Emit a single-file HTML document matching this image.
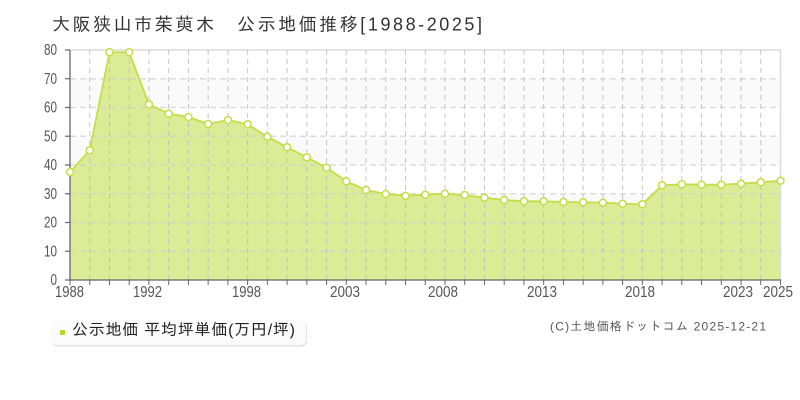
<!DOCTYPE html>
<html><head><meta charset="utf-8"><style>
html,body{margin:0;padding:0;background:#fff;}
svg{display:block;}
text{font-family:"Liberation Sans","IPAGothic","Noto Sans CJK JP",sans-serif;}
</style></head><body>
<svg width="800" height="400" viewBox="0 0 800 400" xmlns="http://www.w3.org/2000/svg">
<rect width="800" height="400" fill="#fff"/>
<text x="52" y="30.5" font-size="18" fill="#333" textLength="430">大阪狭山市茱萸木　公示地価推移[1988-2025]</text>
<!-- bands -->
<rect x="70" y="78.75" width="710.5" height="28.75" fill="#fafafa"/>
<rect x="70" y="136.25" width="710.5" height="28.75" fill="#fafafa"/>
<rect x="70" y="193.75" width="710.5" height="28.75" fill="#fafafa"/>
<rect x="70" y="251.25" width="710.5" height="28.75" fill="#fafafa"/>
<!-- fill -->
<polygon fill="#dbec96" points="70,280 70,172 89.74,150.3 109.47,52.3 129.21,52.3 148.94,104.3 168.68,113.7 188.42,117 208.15,124 227.89,120 247.62,124.3 267.36,136.7 287.10,147.3 306.83,157.3 326.57,167.7 346.30,181.3 366.04,190 385.78,194 405.51,195.7 425.25,194.7 444.98,193.7 464.72,195 484.46,197.7 504.19,200 523.93,201.3 543.66,201.3 563.40,202 583.14,202.3 602.87,202.7 622.61,203.7 642.34,204.3 662.08,185.3 681.82,184.3 701.55,184.7 721.29,184.7 741.02,183.7 760.76,182.3 780.5,180.7 780.5,280"/>
<!-- horizontal grid -->
<g stroke="#cfcfcf" stroke-opacity="0.7" stroke-width="1.6" stroke-dasharray="6,4" fill="none">
<line x1="70" y1="251.25" x2="780.5" y2="251.25"/>
<line x1="70" y1="222.5" x2="780.5" y2="222.5"/>
<line x1="70" y1="193.75" x2="780.5" y2="193.75"/>
<line x1="70" y1="165" x2="780.5" y2="165"/>
<line x1="70" y1="136.25" x2="780.5" y2="136.25"/>
<line x1="70" y1="107.5" x2="780.5" y2="107.5"/>
<line x1="70" y1="78.75" x2="780.5" y2="78.75"/>
</g>
<line x1="70" y1="50" x2="781" y2="50" stroke="#dcdcdc" stroke-width="1.5"/>
<line x1="780.5" y1="50" x2="780.5" y2="280" stroke="#dcdcdc" stroke-width="1.5"/>
<!-- vertical grid -->
<g stroke="#bdbdbd" stroke-opacity="0.85" stroke-width="1" stroke-dasharray="5,4" fill="none">
<line x1="89.74" y1="50" x2="89.74" y2="280"/>
<line x1="109.47" y1="50" x2="109.47" y2="280"/>
<line x1="129.21" y1="50" x2="129.21" y2="280"/>
<line x1="148.94" y1="50" x2="148.94" y2="280"/>
<line x1="168.68" y1="50" x2="168.68" y2="280"/>
<line x1="188.42" y1="50" x2="188.42" y2="280"/>
<line x1="208.15" y1="50" x2="208.15" y2="280"/>
<line x1="227.89" y1="50" x2="227.89" y2="280"/>
<line x1="247.62" y1="50" x2="247.62" y2="280"/>
<line x1="267.36" y1="50" x2="267.36" y2="280"/>
<line x1="287.10" y1="50" x2="287.10" y2="280"/>
<line x1="306.83" y1="50" x2="306.83" y2="280"/>
<line x1="326.57" y1="50" x2="326.57" y2="280"/>
<line x1="346.30" y1="50" x2="346.30" y2="280"/>
<line x1="366.04" y1="50" x2="366.04" y2="280"/>
<line x1="385.78" y1="50" x2="385.78" y2="280"/>
<line x1="405.51" y1="50" x2="405.51" y2="280"/>
<line x1="425.25" y1="50" x2="425.25" y2="280"/>
<line x1="444.98" y1="50" x2="444.98" y2="280"/>
<line x1="464.72" y1="50" x2="464.72" y2="280"/>
<line x1="484.46" y1="50" x2="484.46" y2="280"/>
<line x1="504.19" y1="50" x2="504.19" y2="280"/>
<line x1="523.93" y1="50" x2="523.93" y2="280"/>
<line x1="543.66" y1="50" x2="543.66" y2="280"/>
<line x1="563.40" y1="50" x2="563.40" y2="280"/>
<line x1="583.14" y1="50" x2="583.14" y2="280"/>
<line x1="602.87" y1="50" x2="602.87" y2="280"/>
<line x1="622.61" y1="50" x2="622.61" y2="280"/>
<line x1="642.34" y1="50" x2="642.34" y2="280"/>
<line x1="662.08" y1="50" x2="662.08" y2="280"/>
<line x1="681.82" y1="50" x2="681.82" y2="280"/>
<line x1="701.55" y1="50" x2="701.55" y2="280"/>
<line x1="721.29" y1="50" x2="721.29" y2="280"/>
<line x1="741.02" y1="50" x2="741.02" y2="280"/>
<line x1="760.76" y1="50" x2="760.76" y2="280"/>
</g>
<!-- series line -->
<polyline fill="none" stroke="#c4de48" stroke-width="1.8" stroke-linejoin="round" points="70,172 89.74,150.3 109.47,52.3 129.21,52.3 148.94,104.3 168.68,113.7 188.42,117 208.15,124 227.89,120 247.62,124.3 267.36,136.7 287.10,147.3 306.83,157.3 326.57,167.7 346.30,181.3 366.04,190 385.78,194 405.51,195.7 425.25,194.7 444.98,193.7 464.72,195 484.46,197.7 504.19,200 523.93,201.3 543.66,201.3 563.40,202 583.14,202.3 602.87,202.7 622.61,203.7 642.34,204.3 662.08,185.3 681.82,184.3 701.55,184.7 721.29,184.7 741.02,183.7 760.76,182.3 780.5,180.7"/>
<!-- axes -->
<line x1="70" y1="50" x2="70" y2="280.5" stroke="#666" stroke-width="1.3"/>
<line x1="69.5" y1="280" x2="781" y2="280" stroke="#666" stroke-width="1.3"/>
<g stroke="#666" stroke-width="1.2">
<line x1="65" y1="50" x2="70" y2="50"/>
<line x1="65" y1="78.75" x2="70" y2="78.75"/>
<line x1="65" y1="107.5" x2="70" y2="107.5"/>
<line x1="65" y1="136.25" x2="70" y2="136.25"/>
<line x1="65" y1="165" x2="70" y2="165"/>
<line x1="65" y1="193.75" x2="70" y2="193.75"/>
<line x1="65" y1="222.5" x2="70" y2="222.5"/>
<line x1="65" y1="251.25" x2="70" y2="251.25"/>
<line x1="65" y1="280" x2="70" y2="280"/>
</g>
<g stroke="#666" stroke-width="1">
<line x1="70" y1="280" x2="70" y2="285"/>
<line x1="89.74" y1="280" x2="89.74" y2="285"/>
<line x1="109.47" y1="280" x2="109.47" y2="285"/>
<line x1="129.21" y1="280" x2="129.21" y2="285"/>
<line x1="148.94" y1="280" x2="148.94" y2="285"/>
<line x1="168.68" y1="280" x2="168.68" y2="285"/>
<line x1="188.42" y1="280" x2="188.42" y2="285"/>
<line x1="208.15" y1="280" x2="208.15" y2="285"/>
<line x1="227.89" y1="280" x2="227.89" y2="285"/>
<line x1="247.62" y1="280" x2="247.62" y2="285"/>
<line x1="267.36" y1="280" x2="267.36" y2="285"/>
<line x1="287.10" y1="280" x2="287.10" y2="285"/>
<line x1="306.83" y1="280" x2="306.83" y2="285"/>
<line x1="326.57" y1="280" x2="326.57" y2="285"/>
<line x1="346.30" y1="280" x2="346.30" y2="285"/>
<line x1="366.04" y1="280" x2="366.04" y2="285"/>
<line x1="385.78" y1="280" x2="385.78" y2="285"/>
<line x1="405.51" y1="280" x2="405.51" y2="285"/>
<line x1="425.25" y1="280" x2="425.25" y2="285"/>
<line x1="444.98" y1="280" x2="444.98" y2="285"/>
<line x1="464.72" y1="280" x2="464.72" y2="285"/>
<line x1="484.46" y1="280" x2="484.46" y2="285"/>
<line x1="504.19" y1="280" x2="504.19" y2="285"/>
<line x1="523.93" y1="280" x2="523.93" y2="285"/>
<line x1="543.66" y1="280" x2="543.66" y2="285"/>
<line x1="563.40" y1="280" x2="563.40" y2="285"/>
<line x1="583.14" y1="280" x2="583.14" y2="285"/>
<line x1="602.87" y1="280" x2="602.87" y2="285"/>
<line x1="622.61" y1="280" x2="622.61" y2="285"/>
<line x1="642.34" y1="280" x2="642.34" y2="285"/>
<line x1="662.08" y1="280" x2="662.08" y2="285"/>
<line x1="681.82" y1="280" x2="681.82" y2="285"/>
<line x1="701.55" y1="280" x2="701.55" y2="285"/>
<line x1="721.29" y1="280" x2="721.29" y2="285"/>
<line x1="741.02" y1="280" x2="741.02" y2="285"/>
<line x1="760.76" y1="280" x2="760.76" y2="285"/>
<line x1="780.5" y1="280" x2="780.5" y2="285"/>
</g>
<!-- markers -->
<g fill="#fff" stroke="#c4de48" stroke-width="1.5">
<circle cx="70" cy="172" r="3.5"/><circle cx="89.74" cy="150.3" r="3.5"/><circle cx="109.47" cy="52.3" r="3.5"/><circle cx="129.21" cy="52.3" r="3.5"/><circle cx="148.94" cy="104.3" r="3.5"/><circle cx="168.68" cy="113.7" r="3.5"/><circle cx="188.42" cy="117" r="3.5"/><circle cx="208.15" cy="124" r="3.5"/><circle cx="227.89" cy="120" r="3.5"/><circle cx="247.62" cy="124.3" r="3.5"/><circle cx="267.36" cy="136.7" r="3.5"/><circle cx="287.10" cy="147.3" r="3.5"/><circle cx="306.83" cy="157.3" r="3.5"/><circle cx="326.57" cy="167.7" r="3.5"/><circle cx="346.30" cy="181.3" r="3.5"/><circle cx="366.04" cy="190" r="3.5"/><circle cx="385.78" cy="194" r="3.5"/><circle cx="405.51" cy="195.7" r="3.5"/><circle cx="425.25" cy="194.7" r="3.5"/><circle cx="444.98" cy="193.7" r="3.5"/><circle cx="464.72" cy="195" r="3.5"/><circle cx="484.46" cy="197.7" r="3.5"/><circle cx="504.19" cy="200" r="3.5"/><circle cx="523.93" cy="201.3" r="3.5"/><circle cx="543.66" cy="201.3" r="3.5"/><circle cx="563.40" cy="202" r="3.5"/><circle cx="583.14" cy="202.3" r="3.5"/><circle cx="602.87" cy="202.7" r="3.5"/><circle cx="622.61" cy="203.7" r="3.5"/><circle cx="642.34" cy="204.3" r="3.5"/><circle cx="662.08" cy="185.3" r="3.5"/><circle cx="681.82" cy="184.3" r="3.5"/><circle cx="701.55" cy="184.7" r="3.5"/><circle cx="721.29" cy="184.7" r="3.5"/><circle cx="741.02" cy="183.7" r="3.5"/><circle cx="760.76" cy="182.3" r="3.5"/><circle cx="780.5" cy="180.7" r="3.5"/>
</g>
<!-- y labels -->
<g font-size="16" fill="#555" text-anchor="end">
<text x="57" y="55" textLength="13" lengthAdjust="spacingAndGlyphs">80</text>
<text x="57" y="83.75" textLength="13" lengthAdjust="spacingAndGlyphs">70</text>
<text x="57" y="112.5" textLength="13" lengthAdjust="spacingAndGlyphs">60</text>
<text x="57" y="141.25" textLength="13" lengthAdjust="spacingAndGlyphs">50</text>
<text x="57" y="170" textLength="13" lengthAdjust="spacingAndGlyphs">40</text>
<text x="57" y="198.75" textLength="13" lengthAdjust="spacingAndGlyphs">30</text>
<text x="57" y="227.5" textLength="13" lengthAdjust="spacingAndGlyphs">20</text>
<text x="57" y="256.25" textLength="13" lengthAdjust="spacingAndGlyphs">10</text>
<text x="57" y="285" textLength="6.5" lengthAdjust="spacingAndGlyphs">0</text>
</g>
<!-- x labels -->
<g font-size="16" fill="#555">
<text x="55" y="297" textLength="29" lengthAdjust="spacingAndGlyphs">1988</text>
<text x="133" y="297" textLength="29" lengthAdjust="spacingAndGlyphs">1992</text>
<text x="232" y="297" textLength="29" lengthAdjust="spacingAndGlyphs">1998</text>
<text x="330" y="297" textLength="30" lengthAdjust="spacingAndGlyphs">2003</text>
<text x="428" y="297" textLength="30" lengthAdjust="spacingAndGlyphs">2008</text>
<text x="527" y="297" textLength="30" lengthAdjust="spacingAndGlyphs">2013</text>
<text x="625" y="297" textLength="30" lengthAdjust="spacingAndGlyphs">2018</text>
<text x="723" y="297" textLength="30" lengthAdjust="spacingAndGlyphs">2023</text>
<text x="763" y="297" textLength="30" lengthAdjust="spacingAndGlyphs">2025</text>
</g>
<!-- legend -->
<rect x="52" y="321.5" width="255" height="25" rx="5" fill="#e2e2e2"/>
<rect x="51" y="320" width="255" height="25" rx="5" fill="#fbfbfb"/>
<rect x="60" y="330" width="5" height="5" fill="#b5d92b"/>
<text x="72" y="335" font-size="16" fill="#222" textLength="223">公示地価 平均坪単価(万円/坪)</text>
<!-- copyright -->
<text x="550" y="330.5" font-size="12" fill="#555" textLength="216">(C)土地価格ドットコム 2025-12-21</text>
</svg>
</body></html>
